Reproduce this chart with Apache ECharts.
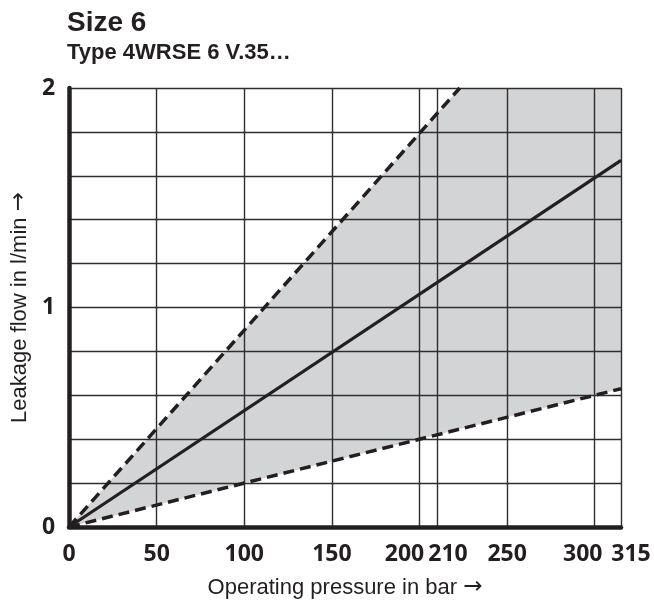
<!DOCTYPE html>
<html><head><meta charset="utf-8">
<script src="https://cdn.jsdelivr.net/npm/echarts@6/dist/echarts.min.js"></script>
<style>html,body{margin:0;padding:0;background:#fff}#c{width:654px;height:607px}</style>
</head><body><div id="c"></div>
<script>
// ---- data ----
const pressureTicks = [0, 50, 100, 150, 200, 210, 250, 300, 315];   // bar
const flowTickLabels = [0, 1, 2];                                    // l/min
const meanLine  = [[0, 0], [315, 1.67]];   // solid line
const upperLine = [[0, 0], [223, 2.0]];    // upper dashed limit
const lowerLine = [[0, 0], [315, 0.63]];   // lower dashed limit
const bandOutline = [[0, 0], [223, 2.0], [315, 2.0], [315, 0.63]]; // shaded scatter band

const INK = '#231f20';
const SANS = '"Liberation Sans", Arial, sans-serif';
const TICKFONT = '"Open Sans", sans-serif';
const chart = echarts.init(document.getElementById('c'), null, {renderer: 'canvas'});

const tickRich = function (pad) {
  return {padding: pad, fontFamily: TICKFONT, fontWeight: 'bold', fontSize: 23, color: INK};
};

chart.setOption({
  animation: false,
  backgroundColor: '#ffffff',
  graphic: [
    {type: 'text', left: 67, top: 9, z: 10,
     style: {text: 'Size 6', fill: INK, font: 'bold 28px ' + SANS}},
    {type: 'text', left: 67, top: 42, z: 10,
     style: {text: 'Type 4WRSE 6 V.35…', fill: INK, font: 'bold 22px ' + SANS}}
  ],
  grid: {left: 67, right: 33, top: 88, bottom: 80, containLabel: false},
  xAxis: {
    type: 'value', min: 0, max: 315, z: 3,
    name: '{t|Operating pressure in bar }{a|→}', nameLocation: 'middle', nameGap: 49,
    nameTextStyle: {fontFamily: SANS, fontSize: 22, color: INK,
      rich: {t: {fontFamily: SANS, fontSize: 22, color: INK},
             a: {fontFamily: '"DejaVu Sans", sans-serif', fontSize: 23, color: INK}}},
    axisLine: {show: true, onZero: false, lineStyle: {color: INK, width: 4.5}},
    axisTick: {show: false, customValues: pressureTicks},
    axisLabel: {
      customValues: pressureTicks, margin: 16, hideOverlap: false,
      showMinLabel: true, showMaxLabel: true,
      fontFamily: TICKFONT, fontWeight: 'bold', fontSize: 23, color: INK,
      formatter: function (v) {
        if (v === 200) return '{l|200}';
        if (v === 210) return '{r|210}';
        if (v === 300) return '{l2|300}';
        if (v === 315) return '{r2|315}';
        return String(v);
      },
      rich: {
        l: tickRich([0, 30, 0, 0]),
        r: tickRich([0, 0, 0, 22]),
        l2: tickRich([0, 24, 0, 0]),
        r2: tickRich([0, 0, 0, 20])
      }
    },
    splitLine: {show: true, lineStyle: {color: '#2e2e2e', width: 1.4}}
  },
  yAxis: {
    type: 'value', min: 0, max: 2, interval: 0.2, z: 3,
    name: '{t|Leakage flow in l/min }{a|→}', nameLocation: 'middle', nameGap: 38, nameRotate: 90,
    nameTextStyle: {fontFamily: SANS, fontSize: 22, color: INK,
      rich: {t: {fontFamily: SANS, fontSize: 22, color: INK},
             a: {fontFamily: '"DejaVu Sans", sans-serif', fontSize: 23, color: INK}}},
    axisLine: {show: true, onZero: false, lineStyle: {color: INK, width: 4.5}},
    axisTick: {show: false},
    axisLabel: {
      customValues: flowTickLabels, margin: 14,
      fontFamily: TICKFONT, fontWeight: 'bold', fontSize: 23, color: INK
    },
    splitLine: {show: true, lineStyle: {color: '#2e2e2e', width: 1.4}}
  },
  series: [
    {
      name: 'band', type: 'custom', z: 1, silent: true, clip: true,
      data: [0],
      renderItem: function (params, api) {
        return {
          type: 'polygon',
          shape: {points: bandOutline.map(p => api.coord(p))},
          style: {fill: '#d3d4d6', stroke: null}
        };
      }
    },
    {name: 'upper', type: 'line', z: 5, data: upperLine, symbol: 'none', silent: true,
     lineStyle: {color: INK, width: 3.5, type: [11, 6]}},
    {name: 'mean', type: 'line', z: 5, data: meanLine, symbol: 'none', silent: true,
     lineStyle: {color: INK, width: 3.2, type: 'solid'}},
    {name: 'lower', type: 'line', z: 5, data: lowerLine, symbol: 'none', silent: true,
     lineStyle: {color: INK, width: 3.5, type: [11, 6]}}
  ]
});
</script></body></html>
